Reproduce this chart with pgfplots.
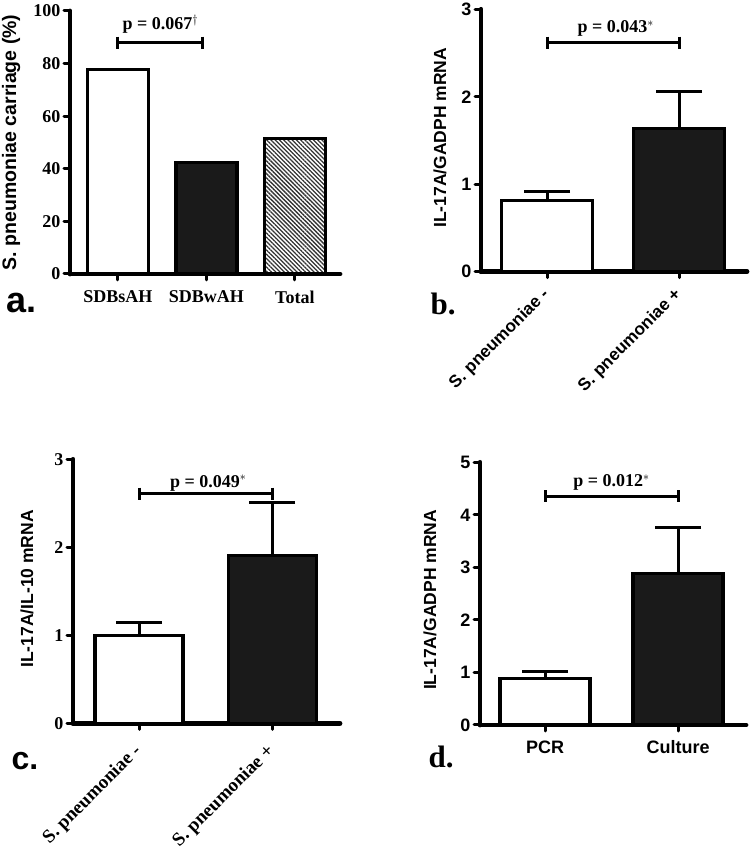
\documentclass[border=0pt]{standalone}
\usepackage{pgfplots}
\pgfplotsset{compat=1.18}
\usepackage{fontspec}
\setmainfont{Liberation Serif}
\newfontfamily\arial{Liberation Sans}
\usetikzlibrary{patterns.meta}
\definecolor{barblack}{HTML}{1A1A1A}
\pgfplotsset{
  panel/.style={
    scale only axis,
    anchor=south west,
    axis x line*=bottom, axis y line*=left,
    axis line style={line width=4.8pt, black, line cap=round},
    tick align=outside,
    major tick length=6pt,
    tick style={line width=3pt, black, line cap=round},
    clip=false,
    /pgf/number format/assume math mode=true,
    ylabel style={font=\arial\bfseries\fontsize{17.5}{18}\selectfont, anchor=center},
    ybar,
  },
  serifticks/.style={tick label style={font=\bfseries\fontsize{18}{18}\selectfont}},
  sansticks/.style={tick label style={font=\arial\bfseries\fontsize{18}{18}\selectfont}},
  whitebar/.style={bar shift=0pt, fill=white, draw=black, line width=3.2pt},
  blackbar/.style={bar shift=0pt, fill=barblack, draw=black, line width=3.2pt},
  errline/.style={sharp plot, black, line width=3pt, mark=-, mark size=23pt,
     mark indices={2}, mark options={line width=3pt, black}},
  bracket/.style={sharp plot, black, line width=3pt, mark=|, mark size=6pt,
     mark options={line width=3pt, black}},
}
\begin{document}
\begin{tikzpicture}
\path[use as bounding box] (0,0) rectangle (750pt,849pt);
% ---------------- panel a
\begin{axis}[panel, serifticks, at={(70pt,575pt)}, width=270pt, height=263pt,
  xmin=-0.542, xmax=2.51, ymin=0, ymax=100, ytick={0,20,40,60,80,100},
  xtick={0,1,2}, xticklabels={SDBsAH,SDBwAH,Total}, bar width=61pt,
  xticklabel style={yshift=-7pt},
  ylabel={S. pneumoniae carriage (\%)},
  ylabel style={at={(axis description cs:-0.2185,0.5)}, font=\arial\bfseries\fontsize{19.5}{20}\selectfont}]
\addplot[whitebar] coordinates {(0,77.8)};
\addplot[blackbar] coordinates {(1,42.5)};
\addplot[bar shift=0pt, draw=black, line width=3.2pt, fill=white,
  pattern={Lines[angle=-45, distance=3pt, line width=1.3pt]}, pattern color=black!80] coordinates {(2,51.6)};
\addplot[bracket] coordinates {(0,88) (0.96,88)};
\node[font=\bfseries\fontsize{18}{18}\selectfont, anchor=base] at (axis cs:0.48,92.8) {p = 0.067$^{\dagger}$};
\end{axis}
\node[font=\arial\bfseries\fontsize{36}{36}\selectfont, anchor=base west] at (3pt,536pt) {a.};
% ---------------- panel b
\begin{axis}[panel, sansticks, at={(481pt,577.3pt)}, width=266pt, height=262.4pt,
  xmin=-0.5, xmax=1.515, ymin=0, ymax=3, ytick={0,1,2,3},
  xtick={0,1}, xticklabels={S. pneumoniae -,S. pneumoniae +}, bar width=91pt,
  xticklabel style={xshift=2pt, yshift=-12pt, rotate=45, anchor=east, font=\arial\bfseries\fontsize{17.2}{18}\selectfont},
  ylabel={IL-17A/GADPH mRNA},
  ylabel style={at={(axis description cs:-0.154,0.51)}}]
\addplot[whitebar] coordinates {(0,0.81)};
\addplot[blackbar] coordinates {(1,1.64)};
\addplot[errline] coordinates {(0,0.81) (0,0.915)};
\addplot[errline] coordinates {(1,1.64) (1,2.06)};
\addplot[bracket] coordinates {(0,2.62) (1,2.62)};
\node[font=\bfseries\fontsize{18}{18}\selectfont, anchor=base] at (axis cs:0.52,2.73) {p = 0.043$^{*}$};
\end{axis}
\node[font=\bfseries\fontsize{31}{31}\selectfont, anchor=base west] at (427pt,534pt) {b.};
% ---------------- panel c
\begin{axis}[panel, serifticks, at={(73pt,125.7pt)}, width=267pt, height=264pt,
  xmin=-0.496, xmax=1.51, ymin=0, ymax=3, ytick={0,1,2,3},
  xtick={0,1}, xticklabels={S. pneumoniae -,S. pneumoniae +}, bar width=88pt,
  xticklabel style={xshift=2pt, yshift=-17pt, rotate=45, anchor=east, font=\bfseries\fontsize{19}{20}\selectfont},
  ylabel={IL-17A/IL-10 mRNA},
  ylabel style={at={(axis description cs:-0.172,0.509)}}]
\addplot[whitebar] coordinates {(0,1.0)};
\addplot[blackbar] coordinates {(1,1.91)};
\addplot[errline] coordinates {(0,1.0) (0,1.14)};
\addplot[errline] coordinates {(1,1.91) (1,2.51)};
\addplot[bracket] coordinates {(0,2.61) (1,2.61)};
\node[font=\bfseries\fontsize{18}{18}\selectfont, anchor=base] at (axis cs:0.52,2.685) {p = 0.049$^{*}$};
\end{axis}
\node[font=\arial\bfseries\fontsize{32}{32}\selectfont, anchor=base west] at (8pt,79pt) {c.};
% ---------------- panel d
\begin{axis}[panel, sansticks, at={(480pt,124pt)}, width=266pt, height=262.7pt,
  xmin=-0.489, xmax=1.511, ymin=0, ymax=5, ytick={0,1,2,3,4,5},
  xtick={0,1}, xticklabels={PCR,Culture}, bar width=90pt,
  xticklabel style={yshift=-6pt},
  ylabel={IL-17A/GADPH mRNA},
  ylabel style={at={(axis description cs:-0.188,0.476)}}]
\addplot[whitebar] coordinates {(0,0.89)};
\addplot[blackbar] coordinates {(1,2.89)};
\addplot[errline] coordinates {(0,0.89) (0,1.02)};
\addplot[errline] coordinates {(1,2.89) (1,3.75)};
\addplot[bracket] coordinates {(0,4.35) (1,4.35)};
\node[font=\bfseries\fontsize{18}{18}\selectfont, anchor=base] at (axis cs:0.5,4.53) {p = 0.012$^{*}$};
\end{axis}
\node[font=\bfseries\fontsize{31}{31}\selectfont, anchor=base west] at (425pt,81pt) {d.};
\end{tikzpicture}
\end{document}
